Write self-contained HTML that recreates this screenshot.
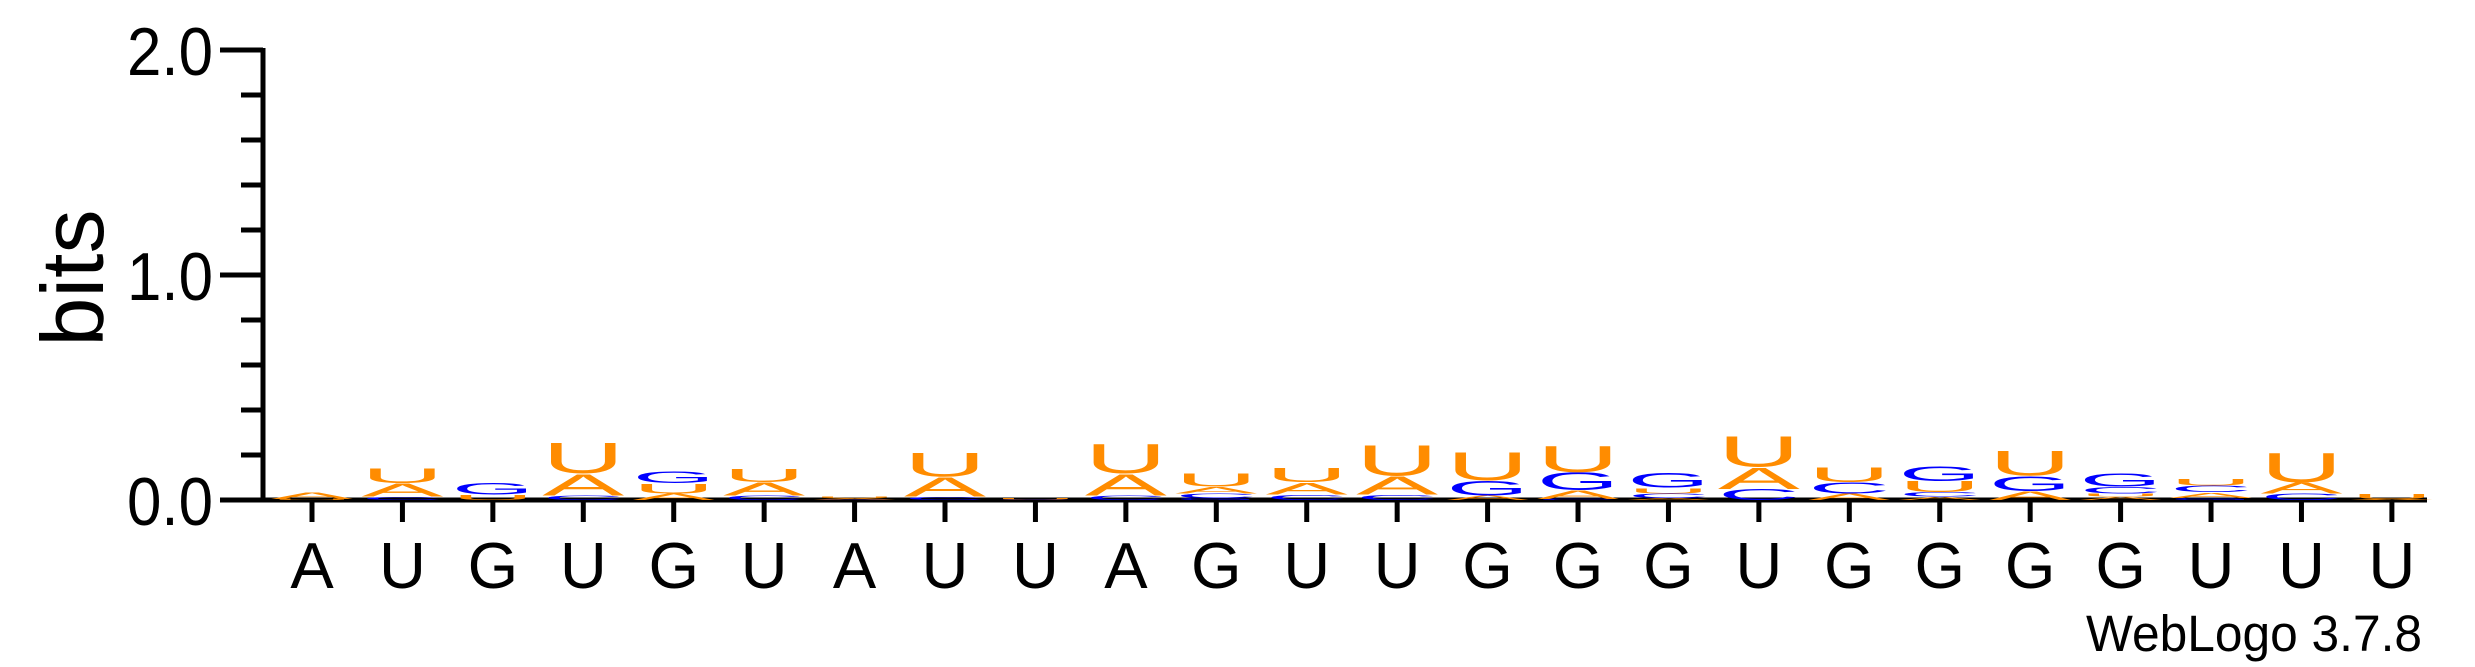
<!DOCTYPE html>
<html><head><meta charset="utf-8"><style>
html,body{margin:0;padding:0;background:#fff;}
svg{display:block;font-family:"Liberation Sans",sans-serif;}
</style></head><body>
<svg id="logo" width="2475" height="667" viewBox="0 0 2475 667" xmlns="http://www.w3.org/2000/svg">
<g id="axes"></g>
<g id="stacks"></g>
<text transform="translate(103,278) rotate(-90)" text-anchor="middle" font-size="88" fill="#000">bits</text>
<text x="2086" y="651" font-size="51" textLength="336" lengthAdjust="spacingAndGlyphs" fill="#000">WebLogo 3.7.8</text>
</svg>
<script>
const positions = ["A","U","G","U","G","U","A","U","U","A","G","U","U","G","G","G","U","G","G","G","G","U","U","U"];
const bitsA = [0.03,0.06,0,0.1,0.03,0.06,0.005,0.09,0,0.1,0.03,0.055,0.085,0.02,0.04,0.01,0.1,0.03,0.015,0.04,0.015,0.025,0.05,0.005];
const bitsC = [0,0.015,0,0.02,0,0.02,0.003,0.015,0.003,0.02,0.02,0.025,0.025,0,0.005,0.02,0.05,0.05,0.02,0,0.03,0.03,0.03,0];
const bitsG = [0,0,0.055,0,0.055,0,0,0,0,0,0.01,0,0,0.07,0.08,0.07,0,0,0.07,0.07,0.06,0.01,0,0];
const bitsU = [0.005,0.07,0.025,0.14,0.045,0.06,0.005,0.11,0.005,0.135,0.06,0.065,0.14,0.13,0.12,0.025,0.14,0.07,0.05,0.115,0.015,0.03,0.135,0.025];
const yTicks = [0,1,2];
const yTickLabels = ["0.0","1.0","2.0"];

const NS="http://www.w3.org/2000/svg";
const axes=document.getElementById('axes');
const stacks=document.getElementById('stacks');
const X0=312, DX=90.43, Y0=500, PPB=225, AXX=263, XEND=2427;
function xOf(i){return X0+i*DX;}
function yOf(b){return Y0-b*PPB;}
function mk(tag,attrs,parent){const e=document.createElementNS(NS,tag);for(const k in attrs)e.setAttribute(k,attrs[k]);parent.appendChild(e);return e;}

let l=mk('line',{x1:AXX,y1:yOf(2)-2,x2:AXX,y2:Y0+2,stroke:'#000','stroke-width':5},axes);


l=mk('line',{x1:AXX-2,y1:Y0,x2:XEND,y2:Y0,stroke:'#000','stroke-width':5},axes);


for(let k=0;k<=10;k++){
  const b=k*0.2; const major=(k%5===0);
  const t=mk('line',{x1:major?220:241,y1:yOf(b),x2:AXX,y2:yOf(b),stroke:'#000','stroke-width':5},axes);
  
  
}
yTicks.forEach((v,i)=>{
  const t=mk('text',{x:213,y:yOf(v)+25,'text-anchor':'end','font-size':68,fill:'#000',textLength:86,lengthAdjust:'spacingAndGlyphs'},axes);
  t.textContent=yTickLabels[i];
  
  
});
positions.forEach((p,i)=>{
  const x=xOf(i);
  const t=mk('line',{x1:x,y1:Y0,x2:x,y2:Y0+22,stroke:'#000','stroke-width':5},axes);
  
  
  const lb=mk('text',{x:x,y:588,'text-anchor':'middle','font-size':65,fill:'#000'},axes);
  lb.textContent=p;
  
  
});

const COLORS={A:'#FF8C00',U:'#FF8C00',G:'#0000FF',C:'#0000FF'};
const CAP=72.9, W=82;
positions.forEach((p,i)=>{
  const items=[['A',bitsA[i]],['C',bitsC[i]],['G',bitsG[i]],['U',bitsU[i]]].filter(d=>d[1]>0);
  items.sort((a,b)=>a[1]-b[1]);
  let base=0;
  const x=xOf(i)-W/2;
  items.forEach(([ch,h])=>{
    const yb=yOf(base); const hp=h*PPB;
    const g=mk('g',{transform:`translate(${x},${yb}) scale(1,${hp/CAP})`},stacks);
    const t=mk('text',{x:0,y:0,'font-size':100,fill:COLORS[ch],textLength:W,lengthAdjust:'spacingAndGlyphs'},g);
    t.textContent=ch;
    
    
    base+=h;
  });
});
</script>
</body></html>
